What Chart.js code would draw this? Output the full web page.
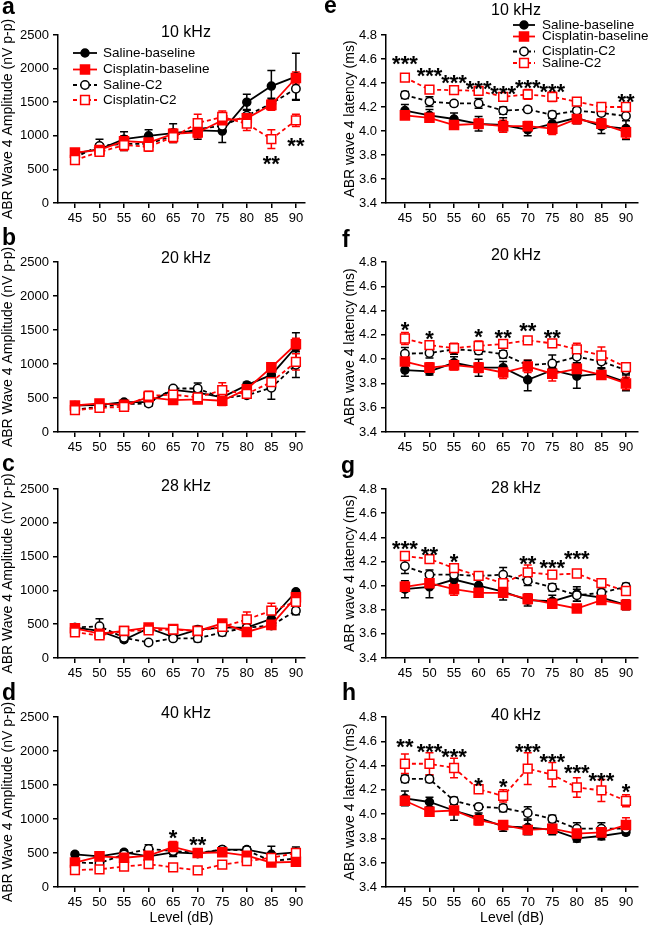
<!DOCTYPE html>
<html>
<head>
<meta charset="utf-8">
<script src="https://cdn.jsdelivr.net/npm/chart.js@4.4.1/dist/chart.umd.min.js"></script>
<style>
  body { margin: 0; background: #fff; font-family: "Liberation Sans", Arial, sans-serif; }
  #fig { position: relative; width: 650px; height: 929px; overflow: hidden; }
  #fig canvas { position: absolute; }
  .letter { position: absolute; font-weight: bold; font-size: 23px; line-height: 22px; }
  .ttl { position: absolute; width: 200px; text-align: center; font-size: 16px; line-height: 16px; }
</style>
</head>
<body>
<div id="fig"></div>
<script>
/* ── Data ── */
const levels = [45, 50, 55, 60, 65, 70, 75, 80, 85, 90];
const ampTicks = [0, 500, 1000, 1500, 2000, 2500];
const latTicks = [3.4, 3.6, 3.8, 4.0, 4.2, 4.4, 4.6, 4.8];

// SB = saline baseline, CB = cisplatin baseline, SC = saline C2, CC = cisplatin C2
const amp10_SB = [740, 800, 950, 1000, 1040, 1080, 1070, 1500, 1740, 1880];
const amp10_SB_err = [40, 80, 110, 90, 140, 130, 170, 120, 230, 350];
const amp10_CB = [750, 790, 920, 900, 1030, 1050, 1230, 1260, 1460, 1860];
const amp10_CB_err = [50, 50, 80, 60, 70, 80, 80, 80, 80, 90];
const amp10_SC = [680, 850, 880, 880, 1000, 1100, 1150, 1300, 1480, 1700];
const amp10_SC_err = [50, 100, 100, 80, 80, 90, 90, 90, 80, 160];
const amp10_CC = [640, 760, 860, 840, 980, 1190, 1280, 1180, 950, 1230];
const amp10_CC_err = [50, 50, 80, 70, 80, 130, 90, 100, 140, 90];
const amp10_stars = [[85, '**', 660], [90, '**', 940]];

const amp20_SB = [390, 400, 440, 440, 620, 580, 510, 690, 840, 1250];
const amp20_SB_err = [30, 30, 30, 40, 40, 60, 60, 40, 120, 210];
const amp20_CB = [390, 420, 400, 510, 470, 480, 460, 630, 950, 1290];
const amp20_CB_err = [30, 30, 30, 40, 40, 40, 70, 50, 50, 90];
const amp20_SC = [330, 370, 410, 420, 640, 640, 500, 540, 650, 990];
const amp20_SC_err = [30, 30, 30, 40, 30, 80, 50, 40, 170, 190];
const amp20_CC = [320, 355, 370, 530, 550, 510, 615, 560, 735, 1030];
const amp20_CC_err = [30, 30, 30, 70, 60, 60, 110, 50, 60, 120];
const amp20_stars = [];

const amp28_SB = [450, 400, 270, 440, 310, 420, 450, 450, 580, 980];
const amp28_SB_err = [30, 40, 30, 30, 30, 50, 50, 40, 60, 30];
const amp28_CB = [440, 360, 400, 450, 430, 400, 510, 385, 490, 900];
const amp28_CB_err = [30, 30, 30, 40, 40, 40, 40, 40, 50, 60];
const amp28_SC = [450, 470, 300, 230, 290, 290, 380, 450, 480, 700];
const amp28_SC_err = [30, 110, 40, 30, 30, 50, 50, 40, 50, 60];
const amp28_CC = [380, 335, 400, 410, 420, 400, 460, 570, 700, 830];
const amp28_CC_err = [30, 30, 30, 30, 40, 40, 50, 110, 110, 70];
const amp28_stars = [];

const amp40_SB = [480, 450, 510, 450, 510, 490, 550, 550, 480, 510];
const amp40_SB_err = [30, 40, 30, 40, 60, 40, 40, 40, 120, 80];
const amp40_CB = [360, 450, 430, 460, 590, 500, 510, 460, 360, 370];
const amp40_CB_err = [40, 40, 50, 50, 80, 50, 50, 60, 40, 40];
const amp40_SC = [360, 350, 480, 560, 530, 500, 550, 540, 380, 420];
const amp40_SC_err = [40, 40, 40, 60, 50, 50, 40, 50, 50, 60];
const amp40_CC = [250, 260, 300, 335, 290, 245, 330, 380, 430, 500];
const amp40_CC_err = [40, 40, 30, 30, 30, 30, 30, 40, 40, 40];
const amp40_stars = [[65, '*', 810], [70, '**', 700]];

const lat10_SB = [4.17, 4.13, 4.10, 4.06, 4.05, 4.01, 4.06, 4.11, 4.04, 4.02];
const lat10_SB_err = [0.05, 0.05, 0.05, 0.06, 0.06, 0.05, 0.05, 0.05, 0.06, 0.09];
const lat10_CB = [4.13, 4.11, 4.05, 4.06, 4.04, 4.04, 4.02, 4.10, 4.06, 3.99];
const lat10_CB_err = [0.03, 0.03, 0.03, 0.04, 0.05, 0.04, 0.05, 0.04, 0.04, 0.05];
const lat10_SC = [4.30, 4.245, 4.23, 4.23, 4.17, 4.18, 4.135, 4.17, 4.15, 4.125];
const lat10_SC_err = [0.03, 0.04, 0.02, 0.04, 0.03, 0.02, 0.03, 0.02, 0.02, 0.04];
const lat10_CC = [4.445, 4.345, 4.34, 4.335, 4.285, 4.305, 4.285, 4.245, 4.20, 4.20];
const lat10_CC_err = [0.02, 0.02, 0.02, 0.02, 0.03, 0.04, 0.04, 0.02, 0.02, 0.03];
const lat10_stars = [[45, '***', 4.61], [50, '***', 4.51], [55, '***', 4.445], [60, '***', 4.40],
                     [65, '***', 4.36], [70, '***', 4.41], [75, '***', 4.37], [90, '**', 4.29]];

const lat20_SB = [3.91, 3.90, 3.97, 3.93, 3.93, 3.83, 3.91, 3.86, 3.88, 3.81];
const lat20_SB_err = [0.05, 0.03, 0.05, 0.07, 0.05, 0.09, 0.05, 0.10, 0.04, 0.07];
const lat20_CB = [3.98, 3.93, 3.95, 3.93, 3.89, 3.94, 3.88, 3.92, 3.87, 3.80];
const lat20_CB_err = [0.05, 0.04, 0.04, 0.04, 0.05, 0.05, 0.06, 0.05, 0.03, 0.05];
const lat20_SC = [4.045, 4.05, 4.08, 4.07, 4.04, 3.95, 3.965, 4.02, 3.98, 3.91];
const lat20_SC_err = [0.05, 0.04, 0.04, 0.03, 0.03, 0.04, 0.07, 0.05, 0.05, 0.04];
const lat20_CC = [4.17, 4.115, 4.09, 4.11, 4.125, 4.155, 4.13, 4.08, 4.03, 3.935];
const lat20_CC_err = [0.05, 0.03, 0.04, 0.04, 0.02, 0.03, 0.03, 0.05, 0.07, 0.03];
const lat20_stars = [[45, '*', 4.29], [50, '*', 4.21], [60, '*', 4.23], [65, '**', 4.22],
                     [70, '**', 4.28], [75, '**', 4.22]];

const lat28_SB = [3.97, 3.99, 4.05, 4.00, 3.95, 3.88, 3.87, 3.93, 3.90, 3.84];
const lat28_SB_err = [0.07, 0.09, 0.04, 0.05, 0.07, 0.05, 0.05, 0.06, 0.04, 0.04];
const lat28_CB = [3.99, 4.02, 3.97, 3.94, 3.94, 3.89, 3.85, 3.81, 3.88, 3.84];
const lat28_CB_err = [0.04, 0.04, 0.05, 0.03, 0.03, 0.04, 0.03, 0.03, 0.03, 0.04];
const lat28_SC = [4.16, 4.09, 4.09, 4.08, 4.09, 4.04, 3.985, 3.92, 3.94, 3.99];
const lat28_SC_err = [0.06, 0.04, 0.04, 0.03, 0.06, 0.04, 0.03, 0.05, 0.03, 0.03];
const lat28_CC = [4.245, 4.22, 4.145, 4.08, 4.02, 4.11, 4.09, 4.10, 4.02, 3.955];
const lat28_CC_err = [0.02, 0.02, 0.03, 0.03, 0.02, 0.06, 0.02, 0.02, 0.02, 0.03];
const lat28_stars = [[45, '***', 4.35], [50, '**', 4.30], [55, '*', 4.24], [70, '**', 4.23],
                     [75, '***', 4.195], [80, '***', 4.27]];

const lat40_SB = [4.13, 4.10, 4.03, 3.97, 3.90, 3.89, 3.87, 3.80, 3.82, 3.85];
const lat40_SB_err = [0.06, 0.04, 0.08, 0.04, 0.04, 0.06, 0.04, 0.03, 0.03, 0.02];
const lat40_CB = [4.11, 4.02, 4.03, 3.95, 3.91, 3.87, 3.88, 3.84, 3.85, 3.91];
const lat40_CB_err = [0.03, 0.03, 0.03, 0.04, 0.03, 0.03, 0.03, 0.03, 0.03, 0.06];
const lat40_SC = [4.29, 4.29, 4.11, 4.06, 4.05, 4.01, 3.96, 3.88, 3.88, 3.88];
const lat40_SC_err = [0.03, 0.03, 0.03, 0.02, 0.03, 0.05, 0.03, 0.05, 0.05, 0.03];
const lat40_CC = [4.415, 4.415, 4.38, 4.205, 4.15, 4.375, 4.325, 4.22, 4.195, 4.11];
const lat40_CC_err = [0.08, 0.09, 0.08, 0.03, 0.05, 0.13, 0.10, 0.08, 0.09, 0.05];
const lat40_stars = [[45, '**', 4.60], [50, '***', 4.557], [55, '***', 4.516], [60, '*', 4.28],
                     [65, '*', 4.27], [70, '***', 4.56], [75, '***', 4.48], [80, '***', 4.386],
                     [85, '***', 4.32], [90, '*', 4.226]];

const legendAmp = ['Saline-baseline', 'Cisplatin-baseline', 'Saline-C2', 'Cisplatin-C2'];
const legendLat = ['Saline-baseline', 'Cisplatin-baseline', 'Cisplatin-C2', 'Saline-C2'];

/* ── Styles ── */
const RED = '#ff0000';
const FONT = '"Liberation Sans", Arial, Helvetica, sans-serif';
const STYLES = [
  { color: '#000', dash: [],     shape: 'circle', open: false, r: 4.0, order: 3 },
  { color: RED,    dash: [],     shape: 'rect',   open: false, r: 6.4, order: 1 },
  { color: '#000', dash: [4, 3], shape: 'circle', open: true,  r: 4.2, order: 2 },
  { color: RED,    dash: [4, 3], shape: 'rect',   open: true,  r: 6.2, order: 0 },
];

Chart.defaults.font.family = FONT;
Chart.defaults.color = '#000';

/* ── Layout ── */
const ROW_TOP   = [0, 228, 457, 684];
const PLOT_TOP  = [35, 262, 489, 717];
const PLOT_BOT  = [203, 432, 658, 887];
const COL_LEFT  = [0, 325];
const X_RANGE   = [[41.55, 91.85], [41.15, 92.45]];

const panels = [
  { letter: 'a', col: 0, row: 0, title: '10 kHz', means: [amp10_SB, amp10_CB, amp10_SC, amp10_CC], errs: [amp10_SB_err, amp10_CB_err, amp10_SC_err, amp10_CC_err], stars: amp10_stars, legend: legendAmp },
  { letter: 'b', col: 0, row: 1, title: '20 kHz', means: [amp20_SB, amp20_CB, amp20_SC, amp20_CC], errs: [amp20_SB_err, amp20_CB_err, amp20_SC_err, amp20_CC_err], stars: amp20_stars },
  { letter: 'c', col: 0, row: 2, title: '28 kHz', means: [amp28_SB, amp28_CB, amp28_SC, amp28_CC], errs: [amp28_SB_err, amp28_CB_err, amp28_SC_err, amp28_CC_err], stars: amp28_stars },
  { letter: 'd', col: 0, row: 3, title: '40 kHz', means: [amp40_SB, amp40_CB, amp40_SC, amp40_CC], errs: [amp40_SB_err, amp40_CB_err, amp40_SC_err, amp40_CC_err], stars: amp40_stars },
  { letter: 'e', col: 1, row: 0, title: '10 kHz', means: [lat10_SB, lat10_CB, lat10_SC, lat10_CC], errs: [lat10_SB_err, lat10_CB_err, lat10_SC_err, lat10_CC_err], stars: lat10_stars, legend: legendLat },
  { letter: 'f', col: 1, row: 1, title: '20 kHz', means: [lat20_SB, lat20_CB, lat20_SC, lat20_CC], errs: [lat20_SB_err, lat20_CB_err, lat20_SC_err, lat20_CC_err], stars: lat20_stars },
  { letter: 'g', col: 1, row: 2, title: '28 kHz', means: [lat28_SB, lat28_CB, lat28_SC, lat28_CC], errs: [lat28_SB_err, lat28_CB_err, lat28_SC_err, lat28_CC_err], stars: lat28_stars },
  { letter: 'h', col: 1, row: 3, title: '40 kHz', means: [lat40_SB, lat40_CB, lat40_SC, lat40_CC], errs: [lat40_SB_err, lat40_CB_err, lat40_SC_err, lat40_CC_err], stars: lat40_stars },
];

// letter: [left, baseline]; title: [centerX, centerY]
const LETTER_POS = { a: [2, 13.5], b: [2, 245], c: [2, 471], d: [2, 700], e: [324, 13], f: [342, 247], g: [341, 473], h: [342, 700] };
const TITLE_POS  = { a: [186, 32], b: [186, 258], c: [186, 486], d: [186, 713], e: [516, 10], f: [516, 255], g: [516, 488], h: [516, 715] };

/* ── Plugins ── */
function drawMarker(ctx, st, x, y) {
  ctx.save();
  ctx.setLineDash([]);
  ctx.lineWidth = 1.5;
  ctx.strokeStyle = st.color;
  ctx.fillStyle = st.open ? '#fff' : st.color;
  ctx.beginPath();
  if (st.shape === 'circle') ctx.arc(x, y, st.r, 0, Math.PI * 2);
  else { const h = st.r * Math.SQRT1_2; ctx.rect(x - h, y - h, 2 * h, 2 * h); }
  ctx.fill(); ctx.stroke();
  ctx.restore();
}

const errorBars = {
  id: 'errorBars',
  beforeDatasetsDraw(chart) {
    const { ctx } = chart;
    const y = chart.scales.y;
    chart.data.datasets.forEach((ds, i) => {
      const meta = chart.getDatasetMeta(i);
      ctx.save();
      ctx.strokeStyle = ds.borderColor;
      ctx.lineWidth = 1.5;
      meta.data.forEach((pt, j) => {
        const v = ds.data[j].y, e = ds.errs[j];
        const top = y.getPixelForValue(v + e), bot = y.getPixelForValue(v - e);
        ctx.beginPath();
        ctx.moveTo(pt.x, top); ctx.lineTo(pt.x, bot);
        ctx.moveTo(pt.x - 4, top); ctx.lineTo(pt.x + 4, top);
        ctx.moveTo(pt.x - 4, bot); ctx.lineTo(pt.x + 4, bot);
        ctx.stroke();
      });
      ctx.restore();
    });
  }
};

function starsPlugin(items) {
  return {
    id: 'stars',
    afterDatasetsDraw(chart) {
      const { ctx, scales: { x, y } } = chart;
      ctx.save();
      ctx.font = 'bold 22px ' + FONT;
      ctx.fillStyle = '#000';
      ctx.textAlign = 'center';
      ctx.textBaseline = 'alphabetic';
      items.forEach(([lvl, txt, val]) => ctx.fillText(txt, x.getPixelForValue(lvl), y.getPixelForValue(val) + 12.7));
      ctx.restore();
    }
  };
}

function legendPlugin(labels, col) {
  const g = col === 0
    ? { x0: 73, x1: 97, mx: 85, tx: 103, rows: [53, 69.5, 85, 100] }
    : { x0: 188, x1: 210, mx: 199, tx: 217, rows: [25, 36.5, 51.5, 63] };
  return {
    id: 'panelLegend',
    afterDraw(chart) {
      if (!labels) return;
      const { ctx } = chart;
      ctx.save();
      ctx.font = '13.5px ' + FONT;
      ctx.textBaseline = 'middle';
      labels.forEach((lbl, i) => {
        const st = STYLES[i], y = g.rows[i];
        ctx.strokeStyle = st.color;
        ctx.lineWidth = 1.8;
        ctx.setLineDash(st.dash);
        ctx.beginPath(); ctx.moveTo(g.x0, y); ctx.lineTo(g.x1, y); ctx.stroke();
        drawMarker(ctx, st, g.mx, y);
        ctx.fillStyle = '#000';
        ctx.fillText(lbl, g.tx, y);
      });
      ctx.restore();
    }
  };
}

/* ── Build ── */
const fig = document.getElementById('fig');

panels.forEach(p => {
  const bottomRow = p.row === 3;
  const xH = bottomRow ? 42 : 25;
  const top = ROW_TOP[p.row];
  const height = PLOT_BOT[p.row] - top + xH;
  const isAmp = p.col === 0;

  const cv = document.createElement('canvas');
  cv.width = 325; cv.height = height;
  cv.style.left = COL_LEFT[p.col] + 'px';
  cv.style.top = top + 'px';
  fig.appendChild(cv);

  const lt = document.createElement('div');
  lt.className = 'letter';
  lt.textContent = p.letter;
  lt.style.left = LETTER_POS[p.letter][0] + 'px';
  lt.style.top = (LETTER_POS[p.letter][1] - 19) + 'px';
  fig.appendChild(lt);

  const tt = document.createElement('div');
  tt.className = 'ttl';
  tt.textContent = p.title;
  tt.style.left = (TITLE_POS[p.letter][0] - 100) + 'px';
  tt.style.top = (TITLE_POS[p.letter][1] - 8) + 'px';
  fig.appendChild(tt);

  const datasets = p.means.map((m, k) => {
    const st = STYLES[k];
    return {
      data: levels.map((l, i) => ({ x: l, y: m[i] })),
      errs: p.errs[k],
      order: st.order,
      borderColor: st.color,
      borderWidth: 1.8,
      borderDash: st.dash,
      pointStyle: st.shape,
      pointRadius: st.r,
      pointBorderWidth: 1.5,
      pointBorderColor: st.color,
      pointBackgroundColor: st.open ? '#fff' : st.color,
      tension: 0,
      clip: false
    };
  });

  const axisGrid = { display: true, drawOnChartArea: false, drawTicks: true, tickLength: 5, color: '#000', lineWidth: 1.5 };
  const axisBorder = { display: true, color: '#000', width: 1.5 };
  const yTicks = isAmp ? ampTicks : latTicks;

  new Chart(cv, {
    type: 'line',
    data: { datasets },
    options: {
      responsive: false,
      animation: false,
      events: [],
      layout: { padding: { top: PLOT_TOP[p.row] - top, left: isAmp ? 0 : 17, right: isAmp ? 20 : 12, bottom: 0 } },
      plugins: { legend: { display: false }, tooltip: { enabled: false } },
      scales: {
        x: {
          type: 'linear',
          min: X_RANGE[p.col][0], max: X_RANGE[p.col][1],
          afterBuildTicks: s => { s.ticks = levels.map(v => ({ value: v })); },
          afterFit: s => { s.height = xH; },
          ticks: { font: { size: 13 }, color: '#000', padding: 3, maxRotation: 0, callback: v => String(v) },
          grid: axisGrid,
          border: axisBorder,
          title: { display: bottomRow, text: 'Level (dB)', font: { size: 14 }, color: '#000', padding: { top: 0, bottom: 2 } }
        },
        y: {
          min: yTicks[0], max: yTicks[yTicks.length - 1],
          afterBuildTicks: s => { s.ticks = yTicks.map(v => ({ value: v })); },
          afterFit: s => { s.width = isAmp ? 58 : 44; },
          ticks: { font: { size: 13 }, color: '#000', padding: 4, callback: v => isAmp ? String(v) : v.toFixed(1) },
          grid: axisGrid,
          border: axisBorder,
          title: { display: true, text: isAmp ? 'ABR Wave 4 Amplitude (nV p-p)' : 'ABR wave 4 latency (ms)', font: { size: 14 }, color: '#000', padding: 0 }
        }
      }
    },
    plugins: [errorBars, starsPlugin(p.stars), legendPlugin(p.legend, p.col)]
  });
});
</script>
</body>
</html>
